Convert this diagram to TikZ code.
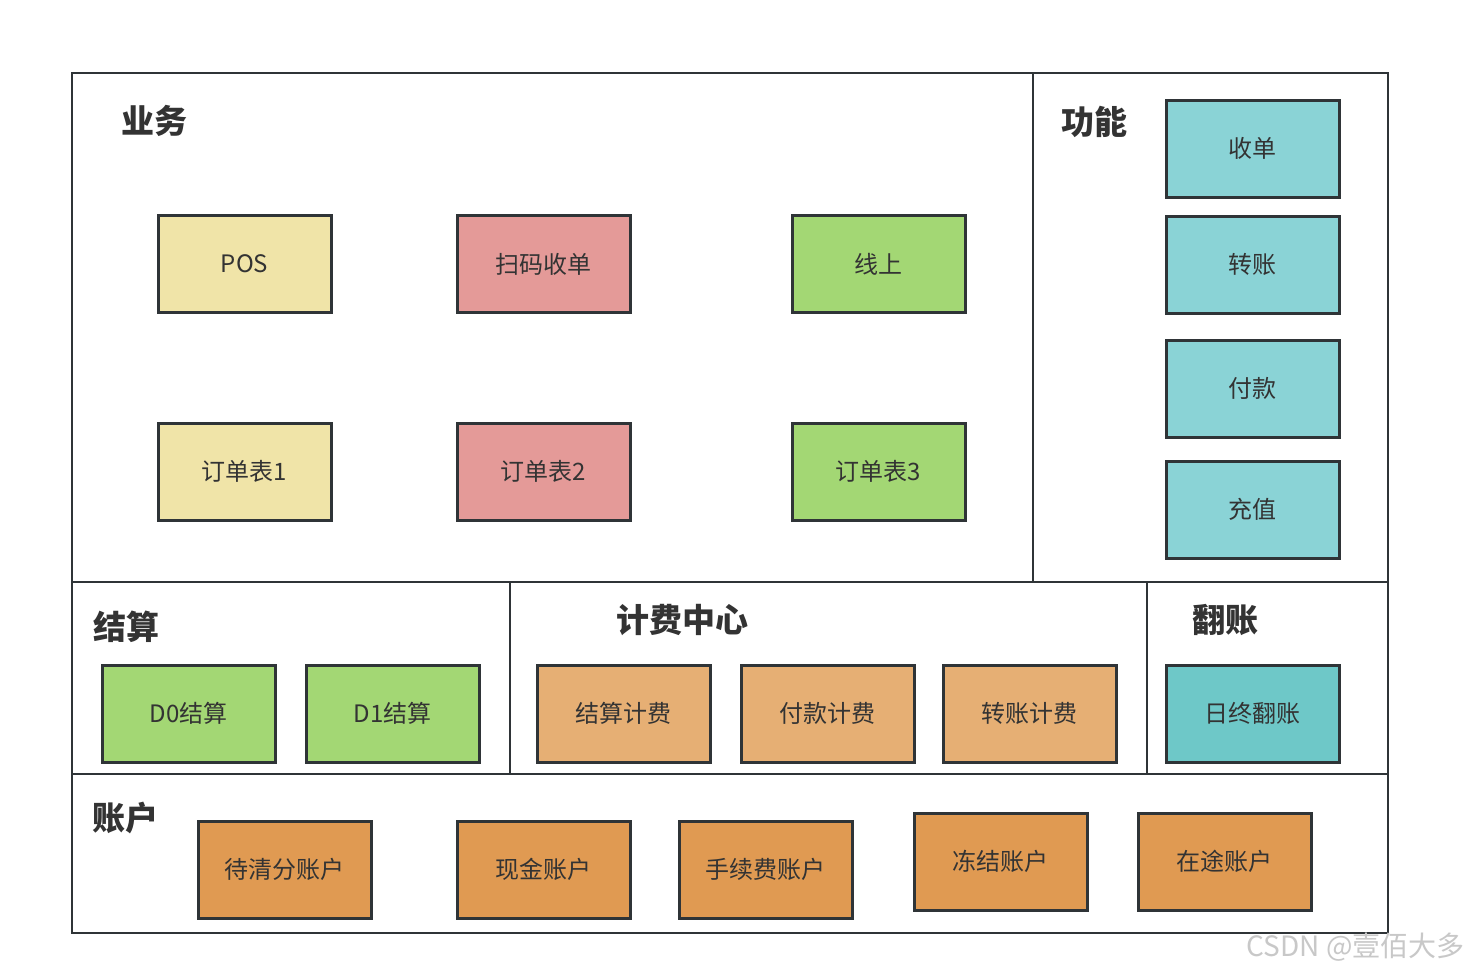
\documentclass[tikz,border=0pt]{standalone}
\usepackage{fontspec}
\setmainfont{Noto Sans CJK SC}
\newfontfamily\cjk{Noto Sans CJK SC}
\definecolor{ln}{HTML}{2F3437}
\definecolor{txt}{HTML}{333333}
\definecolor{cyel}{HTML}{F0E4A8}
\definecolor{cred}{HTML}{E49A98}
\definecolor{cgrn}{HTML}{A3D774}
\definecolor{cteal}{HTML}{8AD3D6}
\definecolor{cteal2}{HTML}{6EC8C8}
\definecolor{corg1}{HTML}{E6AF74}
\definecolor{corg2}{HTML}{E09A52}
\definecolor{wm}{HTML}{C8C8C8}
\tikzset{
  region/.style={draw=ln, line width=2.5pt},
  item/.style={draw=ln, line width=3pt, minimum width=173pt, minimum height=97pt, inner sep=0pt, text=txt, font=\cjk\fontsize{24pt}{28pt}\selectfont},
  ttl/.style={text=txt, font=\cjk\bfseries\fontsize{33pt}{38pt}\selectfont, inner sep=0pt},
}
\begin{document}
\begin{tikzpicture}[x=1pt,y=-1pt]
\useasboundingbox (0,0) rectangle (1470,974);
\fill[white] (0,0) rectangle (1470,974);
% regions
\draw[region] (72,73) rectangle (1033,582);
\draw[region] (1033,73) rectangle (1388,582);
\draw[region] (72,582) rectangle (510,774);
\draw[region] (510,582) rectangle (1147,774);
\draw[region] (1147,582) rectangle (1388,774);
\draw[region] (72,774) rectangle (1388,933);
% titles
\node[ttl] (t1) at (154,121) {业务};
\node[ttl] (t2) at (1094,122) {功能};
\node[ttl] (t3) at (126,627) {结算};
\node[ttl] (t4) at (682,620) {计费中心};
\node[ttl] (t5) at (1225,620) {翻账};
\node[ttl] (t6) at (125,818) {账户};
% business
\node[item, fill=cyel] (pos) at (244.5,264) {POS};
\node[item, fill=cred] (scan) at (543.5,264) {扫码收单};
\node[item, fill=cgrn] (online) at (878.5,264) {线上};
\node[item, fill=cyel] (o1) at (244.5,471.5) {订单表1};
\node[item, fill=cred] (o2) at (543.5,471.5) {订单表2};
\node[item, fill=cgrn] (o3) at (878.5,471.5) {订单表3};
% functions
\node[item, fill=cteal] (f1) at (1252.5,148.5) {收单};
\node[item, fill=cteal] (f2) at (1252.5,264.5) {转账};
\node[item, fill=cteal] (f3) at (1252.5,388.5) {付款};
\node[item, fill=cteal] (f4) at (1252.5,509.5) {充值};
% settlement
\node[item, fill=cgrn] (d0) at (188.5,713.5) {D0结算};
\node[item, fill=cgrn] (d1) at (392.5,713.5) {D1结算};
% billing
\node[item, fill=corg1] (b1) at (623.5,713.5) {结算计费};
\node[item, fill=corg1] (b2) at (827.5,713.5) {付款计费};
\node[item, fill=corg1] (b3) at (1029.5,713.5) {转账计费};
% flip
\node[item, fill=cteal2] (fl) at (1252.5,713.5) {日终翻账};
% accounts
\node[item, fill=corg2] (a1) at (284.5,869.5) {待清分账户};
\node[item, fill=corg2] (a2) at (543.5,869.5) {现金账户};
\node[item, fill=corg2] (a3) at (765.5,869.5) {手续费账户};
\node[item, fill=corg2] (a4) at (1000.5,861.5) {冻结账户};
\node[item, fill=corg2] (a5) at (1224.5,861.5) {在途账户};
% watermark
\node[text=wm, font=\cjk\fontsize{28pt}{32pt}\selectfont, anchor=east, inner sep=0pt] (wmk) at (1465,947) {CSDN @壹佰大多};
\end{tikzpicture}
\end{document}
